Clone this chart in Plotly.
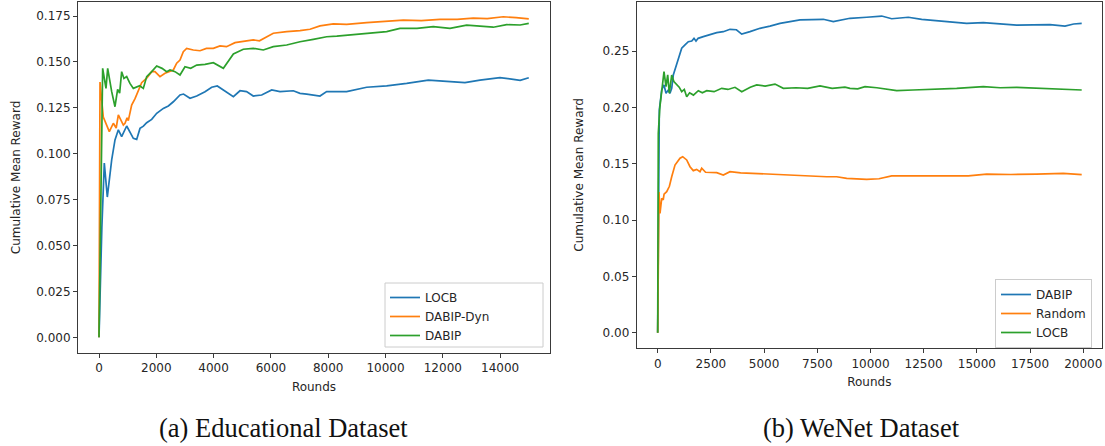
import plotly.graph_objects as go

W, H = 1105, 446

# ---------------- (a) Educational Dataset ----------------
edu_locb_x = [0, 100, 185, 290, 443, 558, 675, 791, 966, 1082, 1198, 1315, 1431, 1550, 1664, 1839, 2014, 2245, 2420, 2594, 2827, 2950, 3176, 3410, 3700, 3933, 4129, 4340, 4690, 4921, 5150, 5385, 5678, 6027, 6317, 6782, 7015, 7250, 7713, 7945, 8644, 9342, 10040, 10739, 11494, 12134, 12773, 13297, 13995, 14460, 14700, 15000]
edu_locb_y = [0, 0.060, 0.0949, 0.0764, 0.0966, 0.1075, 0.113, 0.1093, 0.1151, 0.112, 0.1084, 0.1078, 0.1138, 0.1150, 0.1169, 0.1187, 0.122, 0.1247, 0.126, 0.1283, 0.132, 0.1325, 0.1302, 0.1314, 0.1338, 0.1362, 0.1369, 0.1347, 0.1311, 0.1343, 0.1338, 0.1314, 0.132, 0.1347, 0.1338, 0.1343, 0.1329, 0.1325, 0.1314, 0.1338, 0.1338, 0.1362, 0.137, 0.1383, 0.1401, 0.1394, 0.1387, 0.1401, 0.1414, 0.1405, 0.1400, 0.1414]

edu_dyn_x = [0, 35, 150, 268, 325, 360, 500, 600, 675, 760, 849, 907, 980, 1023, 1140, 1257, 1373, 1489, 1664, 1839, 1954, 2129, 2303, 2450, 2594, 2711, 2827, 2943, 3060, 3292, 3525, 3750, 3990, 4223, 4450, 4747, 5036, 5385, 5600, 5853, 6083, 6551, 7015, 7364, 7713, 8178, 8644, 9342, 10040, 10621, 11250, 11901, 12500, 13063, 13550, 14111, 14560, 15000]
edu_dyn_y = [0, 0.139, 0.120, 0.1156, 0.113, 0.112, 0.1166, 0.1140, 0.1211, 0.1184, 0.1156, 0.1166, 0.1195, 0.1180, 0.1265, 0.1300, 0.1347, 0.1387, 0.1411, 0.1447, 0.1447, 0.142, 0.1438, 0.1447, 0.1456, 0.1493, 0.151, 0.1556, 0.1574, 0.1565, 0.1561, 0.1574, 0.1574, 0.1587, 0.1583, 0.1605, 0.161, 0.162, 0.1615, 0.1637, 0.1656, 0.1665, 0.167, 0.1678, 0.1696, 0.1707, 0.1704, 0.1714, 0.1721, 0.1728, 0.1725, 0.1732, 0.1732, 0.1739, 0.1736, 0.1746, 0.1741, 0.1734]

edu_dabip_x = [0, 128, 244, 303, 443, 558, 650, 720, 791, 870, 966, 1080, 1198, 1315, 1420, 1547, 1664, 1839, 2014, 2200, 2362, 2478, 2653, 2827, 3001, 3200, 3410, 3700, 3990, 4340, 4500, 4690, 5036, 5385, 5735, 6083, 6551, 7015, 7480, 7945, 8300, 8760, 9342, 10040, 10505, 11100, 11668, 12250, 12832, 13300, 13762, 14228, 14700, 15000]
edu_dabip_y = [0, 0.1465, 0.1356, 0.1465, 0.1338, 0.1256, 0.1350, 0.1330, 0.1447, 0.1410, 0.1420, 0.1383, 0.1356, 0.1362, 0.1370, 0.1356, 0.142, 0.1447, 0.1478, 0.1465, 0.1447, 0.1456, 0.1447, 0.1429, 0.1474, 0.1465, 0.1483, 0.1487, 0.1496, 0.1465, 0.1501, 0.1543, 0.1569, 0.1574, 0.1565, 0.1583, 0.1592, 0.161, 0.1623, 0.1637, 0.1640, 0.1647, 0.1656, 0.1665, 0.1683, 0.1683, 0.1692, 0.1683, 0.17, 0.1696, 0.1689, 0.1703, 0.1701, 0.171]

# ---------------- (b) WeNet Dataset ----------------
wn_dabip_x = [0, 75, 188, 296, 390, 498, 578, 658, 733, 893, 1128, 1283, 1438, 1600, 1706, 1800, 1900, 2143, 2458, 2773, 3083, 3398, 3700, 3948, 4338, 4808, 5278, 5748, 6218, 6688, 7250, 7783, 8253, 8650, 9038, 9823, 10528, 10998, 11778, 12408, 13113, 13738, 14523, 15303, 16088, 16873, 17650, 18438, 19143, 19550, 19928]
wn_dabip_y = [0, 0.1978, 0.2155, 0.22, 0.2126, 0.2155, 0.2126, 0.217, 0.2288, 0.2392, 0.2526, 0.2555, 0.2584, 0.2590, 0.2614, 0.2590, 0.2614, 0.2629, 0.265, 0.2665, 0.2673, 0.2694, 0.2690, 0.2652, 0.2673, 0.2703, 0.2723, 0.2747, 0.2762, 0.2777, 0.2780, 0.2783, 0.2762, 0.2775, 0.2792, 0.2801, 0.2812, 0.2788, 0.2801, 0.2783, 0.2771, 0.2762, 0.2747, 0.2753, 0.2741, 0.2732, 0.2733, 0.2735, 0.2723, 0.2741, 0.2747]

wn_rand_x = [0, 60, 108, 188, 260, 300, 423, 550, 658, 813, 1048, 1175, 1363, 1518, 1673, 1830, 1988, 2068, 2250, 2458, 2773, 3083, 3398, 3900, 4493, 5278, 5748, 6400, 7003, 7943, 8413, 8883, 9823, 10400, 10998, 12200, 13400, 14600, 15463, 16600, 17800, 19063, 19928]
wn_rand_y = [0, 0.1250, 0.106, 0.1193, 0.1180, 0.1230, 0.1252, 0.1300, 0.1385, 0.1489, 0.1549, 0.1563, 0.1534, 0.1474, 0.1439, 0.1450, 0.143, 0.146, 0.1425, 0.1421, 0.1421, 0.14, 0.143, 0.1420, 0.1415, 0.1409, 0.14, 0.1395, 0.1392, 0.1385, 0.1385, 0.1371, 0.1362, 0.1367, 0.1392, 0.1392, 0.1387, 0.1392, 0.1409, 0.1405, 0.1409, 0.1415, 0.1403]

wn_locb_x = [0, 28, 100, 200, 296, 390, 470, 545, 658, 760, 893, 1010, 1128, 1250, 1363, 1500, 1680, 1908, 2100, 2303, 2650, 3008, 3300, 3633, 3950, 4350, 4653, 5050, 5513, 5903, 6500, 7050, 7628, 8200, 8800, 9038, 9400, 9743, 10300, 11233, 12000, 12900, 14053, 15303, 16100, 16873, 17800, 18753, 19928]
wn_locb_y = [0, 0.177, 0.2000, 0.2150, 0.2318, 0.2185, 0.2290, 0.2126, 0.2288, 0.2230, 0.22, 0.2180, 0.214, 0.2160, 0.2096, 0.2130, 0.2110, 0.2149, 0.2130, 0.2149, 0.2140, 0.217, 0.2160, 0.2179, 0.2140, 0.2179, 0.22, 0.2190, 0.2208, 0.217, 0.2175, 0.2170, 0.2191, 0.2170, 0.2180, 0.217, 0.2165, 0.2185, 0.2175, 0.2149, 0.2155, 0.2160, 0.217, 0.2185, 0.2175, 0.2179, 0.2170, 0.2161, 0.2155]

edu_ticks_x = [0, 2000, 4000, 6000, 8000, 10000, 12000, 14000]
edu_ticks_y = [0.0, 0.025, 0.05, 0.075, 0.1, 0.125, 0.15, 0.175]
wn_ticks_x = [0, 2500, 5000, 7500, 10000, 12500, 15000, 17500, 20000]
wn_ticks_y = [0.0, 0.05, 0.1, 0.15, 0.2, 0.25]

captions = ["(a) Educational Dataset", "(b) WeNet Dataset"]

BLUE, ORANGE, GREEN = "#1f77b4", "#ff7f0e", "#2ca02c"
LW = 1.7
FONT = "DejaVu Sans"

fig = go.Figure()
for x, y, name, c in [(edu_locb_x, edu_locb_y, "LOCB", BLUE),
                      (edu_dyn_x, edu_dyn_y, "DABIP-Dyn", ORANGE),
                      (edu_dabip_x, edu_dabip_y, "DABIP", GREEN)]:
    fig.add_trace(go.Scatter(x=x, y=y, name=name, mode="lines",
                             line=dict(color=c, width=LW),
                             xaxis="x", yaxis="y", legend="legend"))
for x, y, name, c in [(wn_dabip_x, wn_dabip_y, "DABIP", BLUE),
                      (wn_rand_x, wn_rand_y, "Random", ORANGE),
                      (wn_locb_x, wn_locb_y, "LOCB", GREEN)]:
    fig.add_trace(go.Scatter(x=x, y=y, name=name, mode="lines",
                             line=dict(color=c, width=LW),
                             xaxis="x2", yaxis="y2", legend="legend2"))

def px_x(p):
    return p / W

def px_y(p):
    return 1 - p / H

axis_common = dict(showgrid=False, zeroline=False, showline=True, mirror=True,
                   linecolor="#3a3a3a", linewidth=1, ticks="outside", ticklen=4,
                   tickwidth=1, tickcolor="#3a3a3a", automargin=False,
                   tickfont=dict(family=FONT, size=12, color="#262626"))
title_font = dict(family=FONT, size=12, color="#262626")

fig.update_layout(
    width=W, height=H, margin=dict(l=0, r=0, t=0, b=0, autoexpand=False),
    paper_bgcolor="white", plot_bgcolor="white",
    xaxis=dict(domain=[px_x(78), px_x(550)], range=[-733, 15741],
               tickvals=edu_ticks_x, ticktext=[str(v) for v in edu_ticks_x], anchor="y",
               title=dict(text="Rounds", font=title_font, standoff=8), **axis_common),
    yaxis=dict(domain=[px_y(353), px_y(2)], range=[-0.00855, 0.18264],
               tickvals=edu_ticks_y, ticktext=[f"{v:.3f}" for v in edu_ticks_y], anchor="x",
               title=dict(text="Cumulative Mean Reward", font=title_font, standoff=13), **axis_common),
    xaxis2=dict(domain=[px_x(636.7), px_x(1102)], range=[-987, 20882],
                tickvals=wn_ticks_x, ticktext=[str(v) for v in wn_ticks_x], anchor="y2",
                title=dict(text="Rounds", font=title_font, standoff=7), **axis_common),
    yaxis2=dict(domain=[px_y(348.3), px_y(1.5)], range=[-0.01385, 0.2941],
                tickvals=wn_ticks_y, ticktext=[f"{v:.2f}" for v in wn_ticks_y], anchor="x2",
                title=dict(text="Cumulative Mean Reward", font=title_font, standoff=16), **axis_common),
    legend=dict(x=px_x(385), y=px_y(283), xanchor="left", yanchor="top",
                bgcolor="rgba(0,0,0,0)", borderwidth=0,
                font=dict(family=FONT, size=12, color="#262626")),
    legend2=dict(x=px_x(995), y=px_y(279), xanchor="left", yanchor="top",
                 bgcolor="rgba(255,255,255,0.8)", bordercolor="#cccccc", borderwidth=1,
                 font=dict(family=FONT, size=12, color="#262626")),
    showlegend=True,
)

# frame of the left legend (wider than plotly's own legend box)
fig.add_shape(type="rect", xref="paper", yref="paper",
              x0=px_x(385), x1=px_x(543), y0=px_y(347), y1=px_y(283),
              line=dict(color="#cccccc", width=1), fillcolor="rgba(255,255,255,0.8)",
              layer="above")

fig.add_annotation(text=captions[0], x=px_x(283), y=px_y(428), xref="paper", yref="paper",
                   showarrow=False, xanchor="center", yanchor="middle",
                   font=dict(family="Liberation Serif", size=26.5, color="#111111"))
fig.add_annotation(text=captions[1], x=px_x(861), y=px_y(428), xref="paper", yref="paper",
                   showarrow=False, xanchor="center", yanchor="middle",
                   font=dict(family="Liberation Serif", size=26.5, color="#111111"))

fig.write_html("out.html", config={"displayModeBar": False},
               post_script="document.body.style.margin='0';")
